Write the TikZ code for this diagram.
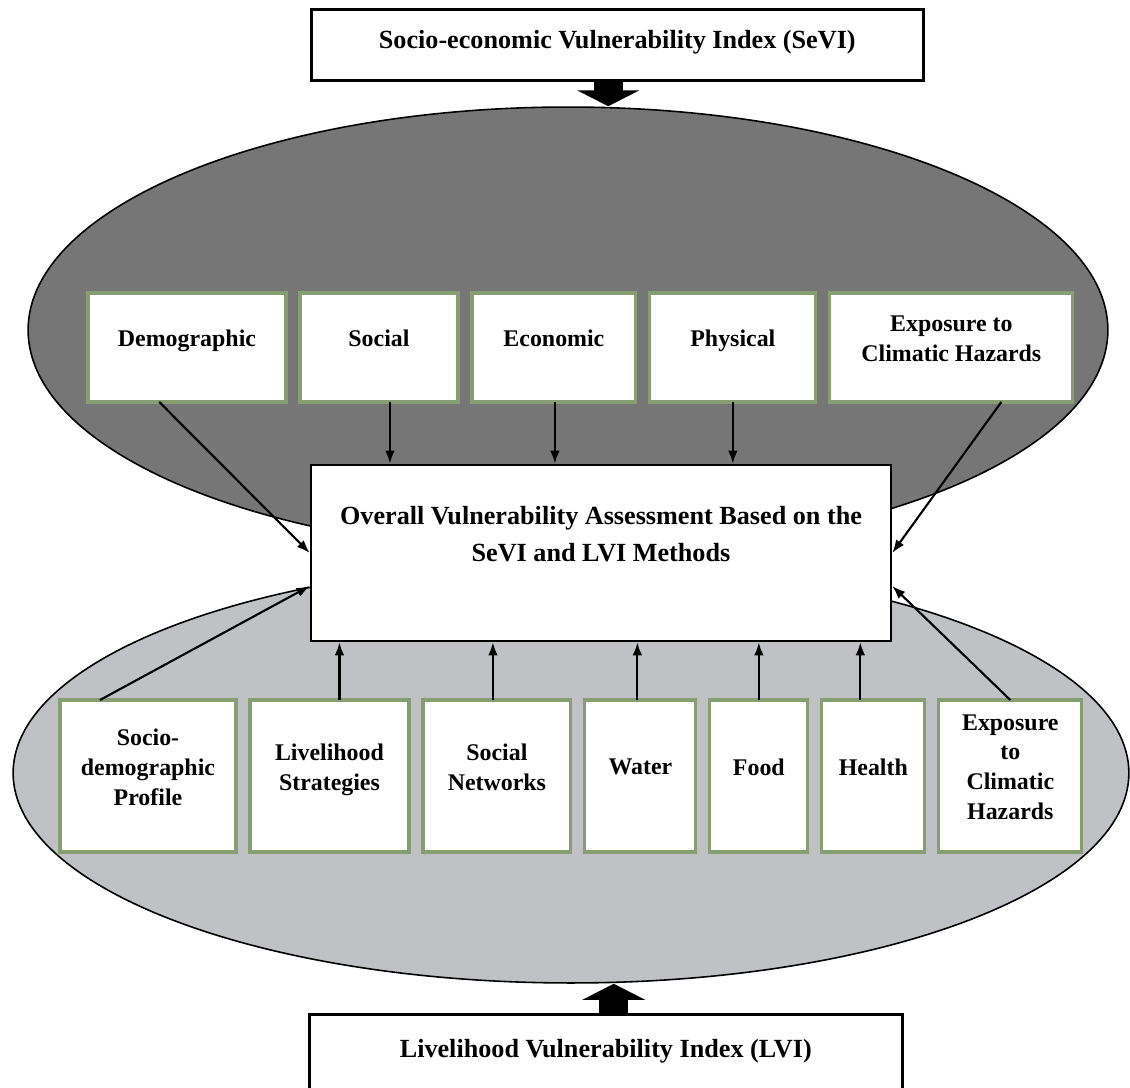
\documentclass[tikz,border=0pt]{standalone}
\usepackage{fontspec}
\setmainfont{Liberation Serif}
\usetikzlibrary{arrows.meta, calc, shapes, positioning}

\definecolor{sevigray}{RGB}{118,118,118}
\definecolor{lvigray}{RGB}{192,193,197}
\definecolor{boxgreen}{RGB}{135,158,115}
\newcommand{\padbelow}[1]{\rule[-#1]{0pt}{#1}}

\begin{document}
\begin{tikzpicture}[x=0.02cm,y=-0.02cm,node distance=0.28cm]

\tikzstyle{oval}=[ellipse,draw=black,line width=0.9pt,inner sep=0pt];
\tikzstyle{index}=[rectangle,draw,line width=1.5pt,fill=white,inner xsep=0pt,inner ysep=0pt,font=\fontsize{14.9}{17}\selectfont\bfseries];
\tikzstyle{factor}=[rectangle,draw=boxgreen,line width=1.8pt,fill=white,outer sep=0pt,align=center,font=\fontsize{13.6}{17}\selectfont\bfseries,execute at end node={\padbelow{0.36cm}}];
\tikzstyle{sevifactor}=[factor,minimum height=2.18cm];
\tikzstyle{lvifactor}=[factor,minimum height=3.04cm];
\tikzstyle{link}=[-{Latex[length=7.5pt,width=5.5pt]},line width=1.2pt];
\tikzstyle{bigarrow}=[-{Triangle[width=1.24cm,length=0.32cm]},line width=0.58cm];

\useasboundingbox (0,0) rectangle (1130,1088);

% the two index ovals
\node(SEVIOVAL) [oval,fill=sevigray,minimum width=21.6cm,minimum height=8.92cm] at (568,330) {};
\node(LVIOVAL) [oval,fill=lvigray,minimum width=22.32cm,minimum height=8.4cm] at (571,773) {};

% index boxes
\node(SEVI) [index,anchor=north west,minimum width=12.24cm,text height=0.78cm,text depth=0.64cm] at (310,8) {Socio-economic Vulnerability Index (SeVI)};
\node(LVI) [index,anchor=north west,minimum width=11.86cm,text height=0.86cm,text depth=1.2cm] at (308,1013) {Livelihood Vulnerability Index (LVI)};
\draw[bigarrow] ($(SEVI.south)+(-9,0)$) coordinate (out) -- (out |- SEVIOVAL.north);
\draw[bigarrow] ($(LVI.north)+(8,0)$) coordinate (out) -- (out |- LVIOVAL.south);

% overall assessment
\node(OVA) [rectangle,draw,line width=1.5pt,fill=white,minimum width=11.6cm,minimum height=3.52cm,align=center,font=\fontsize{14.9}{21}\selectfont\bfseries] at (601,553) {Overall Vulnerability Assessment Based on the\\SeVI and LVI Methods\padbelow{0.75cm}};

% SeVI components
\node(DEMO) [sevifactor,anchor=north west,minimum width=3.96cm] at (88,293) {Demographic};
\node(SOC) [sevifactor,right=of DEMO,minimum width=3.16cm] {Social};
\node(ECO) [sevifactor,right=of SOC,minimum width=3.28cm] {Economic};
\node(PHYS) [sevifactor,right=of ECO,minimum width=3.32cm] {Physical};
\node(EXPS) [sevifactor,right=of PHYS,minimum width=4.86cm] {Exposure to\\Climatic Hazards};

% LVI components
\node(SDP) [lvifactor,anchor=north west,minimum width=3.52cm] at (60,700) {Socio-\\demographic\\Profile};
\node(LIV) [lvifactor,right=of SDP,minimum width=3.18cm] {Livelihood\\Strategies};
\node(SN) [lvifactor,right=of LIV,minimum width=2.96cm] {Social\\Networks};
\node(WAT) [lvifactor,right=of SN,minimum width=2.22cm] {Water};
\node(FOOD) [lvifactor,right=of WAT,minimum width=1.96cm] {Food};
\node(HEA) [lvifactor,right=of FOOD,minimum width=2.06cm] {Health};
\node(EXPL) [lvifactor,right=of HEA,minimum width=2.86cm] {Exposure\\to\\Climatic\\Hazards};

% links into the assessment
\foreach \src/\dx in {SOC/11, ECO/1, PHYS/0}
  \draw[link] ($(\src.south)+(\dx,0)$) coordinate (out) -- (out |- OVA.north);
\foreach \src/\dx in {LIV/10, SN/-4, WAT/-3, FOOD/0, HEA/-13}
  \draw[link] ($(\src.north)+(\dx,0)$) coordinate (out) -- (out |- OVA.south);
\draw[link] ($(DEMO.south west)!0.36!(DEMO.south east)$) -- (OVA.west);
\draw[link] ($(EXPS.south)+(50,0)$) -- (OVA.east);
\draw[link] ($(SDP.north)+(-48,0)$) -- ($(OVA.west)+(0,33)$);
\draw[link] (EXPL.north) -- ($(OVA.east)+(0,33)$);

\end{tikzpicture}
\end{document}
